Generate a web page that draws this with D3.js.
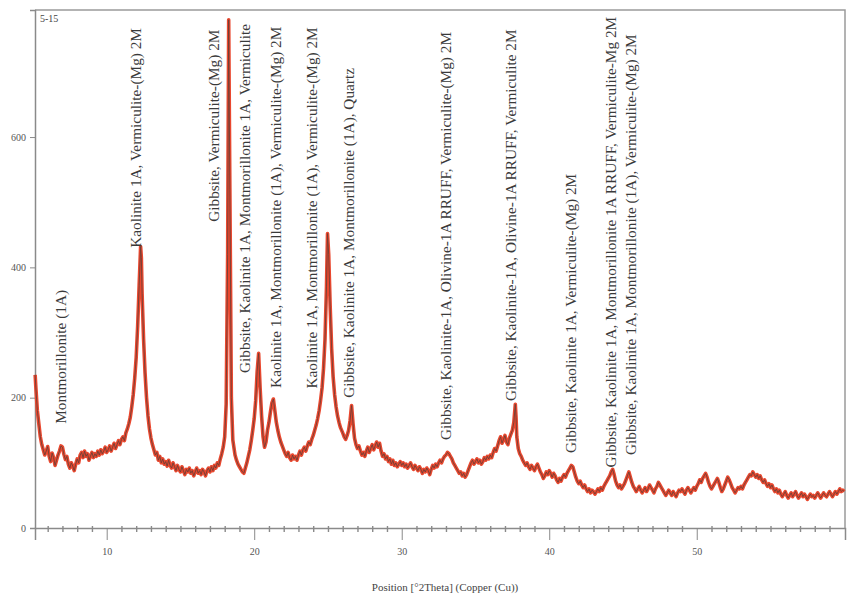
<!DOCTYPE html>
<html>
<head>
<meta charset="utf-8">
<script src="https://cdn.jsdelivr.net/npm/d3@7"></script>
<style>
  html, body { margin: 0; padding: 0; background: #fff; }
  svg { display: block; }
  .axis path, .axis line { stroke: #8a8a8a; }
  .axis text { fill: #555; font-family: "Liberation Serif", serif; font-size: 10px; }
</style>
</head>
<body>
<svg id="chart" width="847" height="598"></svg>
<script>
// Sample and axis text
const sampleName = "5-15";
const xTitle = "Position [°2Theta] (Copper (Cu))";
const xMajorTicks = [10, 20, 30, 40, 50];
const yTicks = [0, 200, 400, 600];
const xDomain = [5.14, 60.05];
const yDomain = [0, 795];

// Measured scan: [position °2θ, counts]
const scan = [
  [5.15,235],[5.2,215],[5.3,180],[5.4,160],[5.5,140],[5.6,128],[5.7,120],[5.8,112],[5.9,118],
  [6.0,125],[6.1,110],[6.2,102],[6.3,115],[6.4,108],[6.5,96],[6.6,104],[6.7,112],[6.8,118],[6.9,126],
  [7.0,124],[7.1,113],[7.2,105],[7.3,110],[7.4,98],[7.5,92],[7.6,100],[7.7,95],[7.8,88],[7.9,98],
  [8.0,106],[8.1,100],[8.2,112],[8.3,116],[8.4,108],[8.5,118],[8.6,110],[8.7,114],[8.8,104],[8.9,110],
  [9.0,116],[9.1,108],[9.2,114],[9.3,110],[9.4,118],[9.5,112],[9.6,120],[9.7,114],[9.8,118],[9.9,124],
  [10.0,116],[10.1,120],[10.2,126],[10.3,118],[10.4,124],[10.5,130],[10.6,122],[10.7,128],[10.8,134],[10.9,128],
  [11.0,136],[11.1,140],[11.2,134],[11.3,146],[11.4,152],[11.5,160],[11.6,170],[11.7,186],[11.8,205],[11.9,230],
  [12.0,262],[12.1,310],[12.2,372],[12.3,432],[12.35,415],[12.4,360],[12.5,290],[12.6,238],[12.7,200],[12.8,172],[12.9,152],
  [13.0,138],[13.1,128],[13.2,120],[13.3,112],[13.4,116],[13.5,104],[13.6,110],[13.7,100],[13.8,106],[13.9,98],
  [14.0,102],[14.1,95],[14.2,104],[14.3,96],[14.4,92],[14.5,100],[14.6,94],[14.7,88],[14.8,96],[14.9,90],
  [15.0,86],[15.1,94],[15.2,88],[15.3,82],[15.4,90],[15.5,86],[15.6,92],[15.7,84],[15.8,88],[15.9,80],
  [16.0,86],[16.1,92],[16.2,84],[16.3,88],[16.4,82],[16.5,90],[16.6,86],[16.7,80],[16.8,88],[16.9,92],
  [17.0,86],[17.1,94],[17.2,88],[17.3,96],[17.4,92],[17.5,100],[17.6,96],[17.7,106],[17.8,114],[17.9,124],
  [18.0,140],[18.1,190],[18.2,420],[18.27,780],[18.35,520],[18.45,200],[18.55,135],[18.7,112],[18.8,104],[18.9,98],
  [19.0,94],[19.1,90],[19.2,86],[19.3,84],[19.4,92],[19.5,100],[19.6,110],[19.7,120],[19.8,134],[19.9,150],
  [20.0,168],[20.1,195],[20.2,240],[20.3,268],[20.4,215],[20.5,172],[20.6,140],[20.7,124],[20.8,132],[20.9,150],
  [21.0,162],[21.1,178],[21.2,192],[21.3,198],[21.4,180],[21.5,162],[21.6,150],[21.7,140],[21.8,132],[21.9,126],
  [22.0,120],[22.1,114],[22.2,110],[22.3,116],[22.4,108],[22.5,104],[22.6,112],[22.7,106],[22.8,110],[22.9,104],
  [23.0,112],[23.1,118],[23.2,112],[23.3,120],[23.4,124],[23.5,118],[23.6,126],[23.7,132],[23.8,128],[23.9,136],
  [24.0,142],[24.1,150],[24.2,158],[24.3,168],[24.4,180],[24.5,196],[24.6,215],[24.7,245],[24.8,290],[24.9,370],
  [24.97,452],[25.05,420],[25.15,340],[25.25,275],[25.35,232],[25.45,205],[25.55,186],[25.65,172],[25.75,162],[25.85,154],
  [26.0,146],[26.1,140],[26.2,136],[26.3,142],[26.4,150],[26.5,165],[26.6,188],[26.7,160],[26.8,138],[26.9,128],
  [27.0,122],[27.1,126],[27.2,118],[27.3,112],[27.4,116],[27.5,110],[27.6,118],[27.7,124],[27.8,116],[27.9,122],
  [28.0,128],[28.1,120],[28.2,126],[28.3,132],[28.4,124],[28.5,130],[28.6,118],[28.7,110],[28.8,114],[28.9,106],
  [29.0,110],[29.1,102],[29.2,106],[29.3,98],[29.4,104],[29.5,96],[29.6,100],[29.7,94],[29.8,98],[29.9,102],
  [30.0,96],[30.1,100],[30.2,94],[30.3,98],[30.4,92],[30.5,96],[30.6,100],[30.7,94],[30.8,90],[30.9,96],
  [31.0,92],[31.1,88],[31.2,94],[31.3,90],[31.4,84],[31.5,90],[31.6,86],[31.7,92],[31.8,88],[31.9,82],
  [32.0,90],[32.1,96],[32.2,92],[32.3,98],[32.4,94],[32.5,100],[32.6,104],[32.7,100],[32.8,106],[32.9,110],
  [33.0,112],[33.1,116],[33.2,114],[33.3,110],[33.4,106],[33.5,100],[33.6,96],[33.7,92],[33.8,88],[33.9,84],
  [34.0,86],[34.1,80],[34.2,84],[34.3,78],[34.4,82],[34.5,88],[34.6,94],[34.7,100],[34.8,104],[34.9,98],
  [35.0,102],[35.1,106],[35.2,100],[35.3,104],[35.4,98],[35.5,102],[35.6,108],[35.7,104],[35.8,110],[35.9,106],
  [36.0,112],[36.1,108],[36.2,116],[36.3,122],[36.4,118],[36.5,126],[36.6,134],[36.7,140],[36.8,130],[36.9,136],
  [37.0,142],[37.1,132],[37.2,128],[37.3,138],[37.4,144],[37.5,150],[37.6,162],[37.7,190],[37.75,170],[37.8,140],[37.9,122],
  [38.0,114],[38.1,110],[38.2,104],[38.3,100],[38.4,96],[38.5,100],[38.6,94],[38.7,90],[38.8,96],[38.9,92],
  [39.0,88],[39.1,94],[39.2,98],[39.3,92],[39.4,86],[39.5,82],[39.6,76],[39.7,80],[39.8,86],[39.9,82],
  [40.0,88],[40.1,84],[40.2,78],[40.3,84],[40.4,80],[40.5,74],[40.6,70],[40.7,76],[40.8,72],[40.9,78],
  [41.0,82],[41.1,78],[41.2,84],[41.3,88],[41.4,92],[41.5,96],[41.6,94],[41.7,86],[41.8,78],[41.9,72],
  [42.0,68],[42.1,72],[42.2,66],[42.3,62],[42.4,66],[42.5,60],[42.6,56],[42.7,60],[42.8,54],[42.9,58],
  [43.0,56],[43.1,52],[43.2,56],[43.3,60],[43.4,56],[43.5,62],[43.6,58],[43.7,64],[43.8,68],[43.9,72],
  [44.0,76],[44.1,80],[44.2,86],[44.3,90],[44.4,82],[44.5,72],[44.6,66],[44.7,62],[44.8,66],[44.9,60],
  [45.0,64],[45.1,68],[45.2,74],[45.3,80],[45.4,86],[45.5,78],[45.6,70],[45.7,64],[45.8,60],[45.9,56],
  [46.0,60],[46.1,64],[46.2,58],[46.3,54],[46.4,58],[46.5,62],[46.6,56],[46.7,60],[46.8,66],[46.9,62],
  [47.0,58],[47.1,54],[47.2,60],[47.3,64],[47.4,70],[47.5,66],[47.6,62],[47.7,58],[47.8,54],[47.9,50],
  [48.0,54],[48.1,58],[48.2,54],[48.3,50],[48.4,56],[48.5,52],[48.6,48],[48.7,54],[48.8,58],[48.9,56],
  [49.0,60],[49.1,56],[49.2,52],[49.3,58],[49.4,62],[49.5,58],[49.6,54],[49.7,58],[49.8,62],[49.9,58],
  [50.0,64],[50.1,68],[50.2,74],[50.3,70],[50.4,76],[50.5,80],[50.6,84],[50.7,78],[50.8,70],[50.9,64],
  [51.0,60],[51.1,64],[51.2,68],[51.3,72],[51.4,76],[51.5,70],[51.6,62],[51.7,56],[51.8,60],[51.9,66],
  [52.0,72],[52.1,78],[52.2,74],[52.3,68],[52.4,62],[52.5,58],[52.6,54],[52.7,58],[52.8,62],[52.9,60],
  [53.0,64],[53.1,60],[53.2,66],[53.3,70],[53.4,74],[53.5,78],[53.6,82],[53.7,80],[53.8,86],[53.9,82],
  [54.0,78],[54.1,82],[54.2,76],[54.3,80],[54.4,74],[54.5,70],[54.6,74],[54.7,68],[54.8,64],[54.9,68],
  [55.0,62],[55.1,66],[55.2,60],[55.3,56],[55.4,60],[55.5,54],[55.6,58],[55.7,52],[55.8,48],[55.9,52],
  [56.0,56],[56.1,50],[56.2,46],[56.3,50],[56.4,54],[56.5,48],[56.6,52],[56.7,56],[56.8,50],[56.9,46],
  [57.0,50],[57.1,54],[57.2,48],[57.3,52],[57.4,48],[57.5,44],[57.6,48],[57.7,52],[57.8,48],[57.9,50],
  [58.0,46],[58.1,50],[58.2,54],[58.3,50],[58.4,46],[58.5,50],[58.6,54],[58.7,50],[58.8,48],[58.9,52],
  [59.0,56],[59.1,52],[59.2,48],[59.3,52],[59.4,56],[59.5,52],[59.6,56],[59.7,60],[59.8,56],[59.9,58],[60.0,56]
];

// Phase identification labels: position (°2θ), counts level where the text starts, text
const peakPositions = [7.0, 12.05, 17.34, 19.44, 21.55, 23.99, 26.49, 33.07, 37.48, 41.54, 44.25, 45.6];
const labelBases    = [160, 430, 470, 238, 215, 214, 200, 135, 195, 115, 93, 112];
const phaseNames = [
  "Montmorillonite (1A)",
  "Kaolinite 1A, Vermiculite-(Mg) 2M",
  "Gibbsite, Vermiculite-(Mg) 2M",
  "Gibbsite, Kaolinite 1A, Montmorillonite 1A, Vermiculite",
  "Kaolinite 1A, Montmorillonite (1A), Vermiculite-(Mg) 2M",
  "Kaolinite 1A, Montmorillonite (1A), Vermiculite-(Mg) 2M",
  "Gibbsite, Kaolinite 1A, Montmorillonite (1A), Quartz",
  "Gibbsite, Kaolinite-1A, Olivine-1A RRUFF, Vermiculite-(Mg) 2M",
  "Gibbsite, Kaolinite-1A, Olivine-1A RRUFF, Vermiculite 2M",
  "Gibbsite, Kaolinite 1A, Vermiculite-(Mg) 2M",
  "Gibbsite, Kaolinite 1A, Montmorillonite 1A RRUFF, Vermiculite-Mg 2M",
  "Gibbsite, Kaolinite 1A, Montmorillonite (1A), Vermiculite-(Mg) 2M"
];

const svg = d3.select("#chart");
const plot = { left: 35, right: 845, top: 10, bottom: 528 };

const x = d3.scaleLinear().domain(xDomain).range([plot.left, plot.right]);
const y = d3.scaleLinear().domain(yDomain).range([plot.bottom, plot.top]);

// frame (top and right edges)
svg.append("path")
  .attr("d", `M${plot.left},${plot.top}H${plot.right}V${plot.bottom}`)
  .attr("fill", "none").attr("stroke", "#9a9a9a").attr("stroke-width", 1.5);

// x axis: minor ticks every degree, labelled major ticks every 10°
const minorTicks = d3.range(6, 60, 1).filter(v => v % 10 !== 0);
svg.append("g").attr("class", "axis")
  .attr("transform", `translate(0,${plot.bottom})`)
  .call(d3.axisBottom(x).tickValues(minorTicks).tickSize(4).tickFormat(""))
  .call(g => g.selectAll(".tick line").attr("y1", -2).attr("stroke-width", 1.4));
svg.append("g").attr("class", "axis")
  .attr("transform", `translate(0,${plot.bottom})`)
  .call(d3.axisBottom(x).tickValues(xMajorTicks).tickSize(12).tickPadding(8).tickFormat(d3.format("d")))
  .call(g => g.select(".domain").attr("stroke-width", 1.5));

// y axis
svg.append("g").attr("class", "axis")
  .attr("transform", `translate(${plot.left},0)`)
  .call(d3.axisLeft(y).tickValues(yTicks).tickSize(5).tickPadding(4))
  .call(g => g.select(".domain").attr("stroke-width", 1.5));

// diffraction pattern
const line = d3.line().x(d => x(d[0])).y(d => y(d[1]));
svg.append("path").datum(scan)
  .attr("d", line).attr("fill", "none")
  .attr("stroke", "#e9482f").attr("stroke-width", 3.6).attr("stroke-linejoin", "round");
svg.append("path").datum(scan)
  .attr("d", line).attr("fill", "none")
  .attr("stroke", "#6a3e36").attr("stroke-width", 1).attr("stroke-opacity", 0.85);

// phase labels, written bottom-to-top above their reflections
svg.append("g").selectAll("text")
  .data(phaseNames)
  .join("text")
  .attr("transform", (d, i) => `translate(${x(peakPositions[i]) + 4},${y(labelBases[i])}) rotate(-90)`)
  .attr("font-family", "Liberation Serif, serif")
  .attr("font-size", 15.3)
  .attr("fill", "#3a3a3a")
  .text(d => d);

// sample name
svg.append("text")
  .attr("x", plot.left + 5).attr("y", plot.top + 12)
  .attr("font-family", "Liberation Serif, serif").attr("font-size", 10)
  .attr("fill", "#444").text(sampleName);

// x axis title
svg.append("text")
  .attr("x", (plot.left + plot.right) / 2 + 5).attr("y", 591)
  .attr("text-anchor", "middle")
  .attr("font-family", "Liberation Serif, serif").attr("font-size", 11)
  .attr("fill", "#444").text(xTitle);
</script>
</body>
</html>
